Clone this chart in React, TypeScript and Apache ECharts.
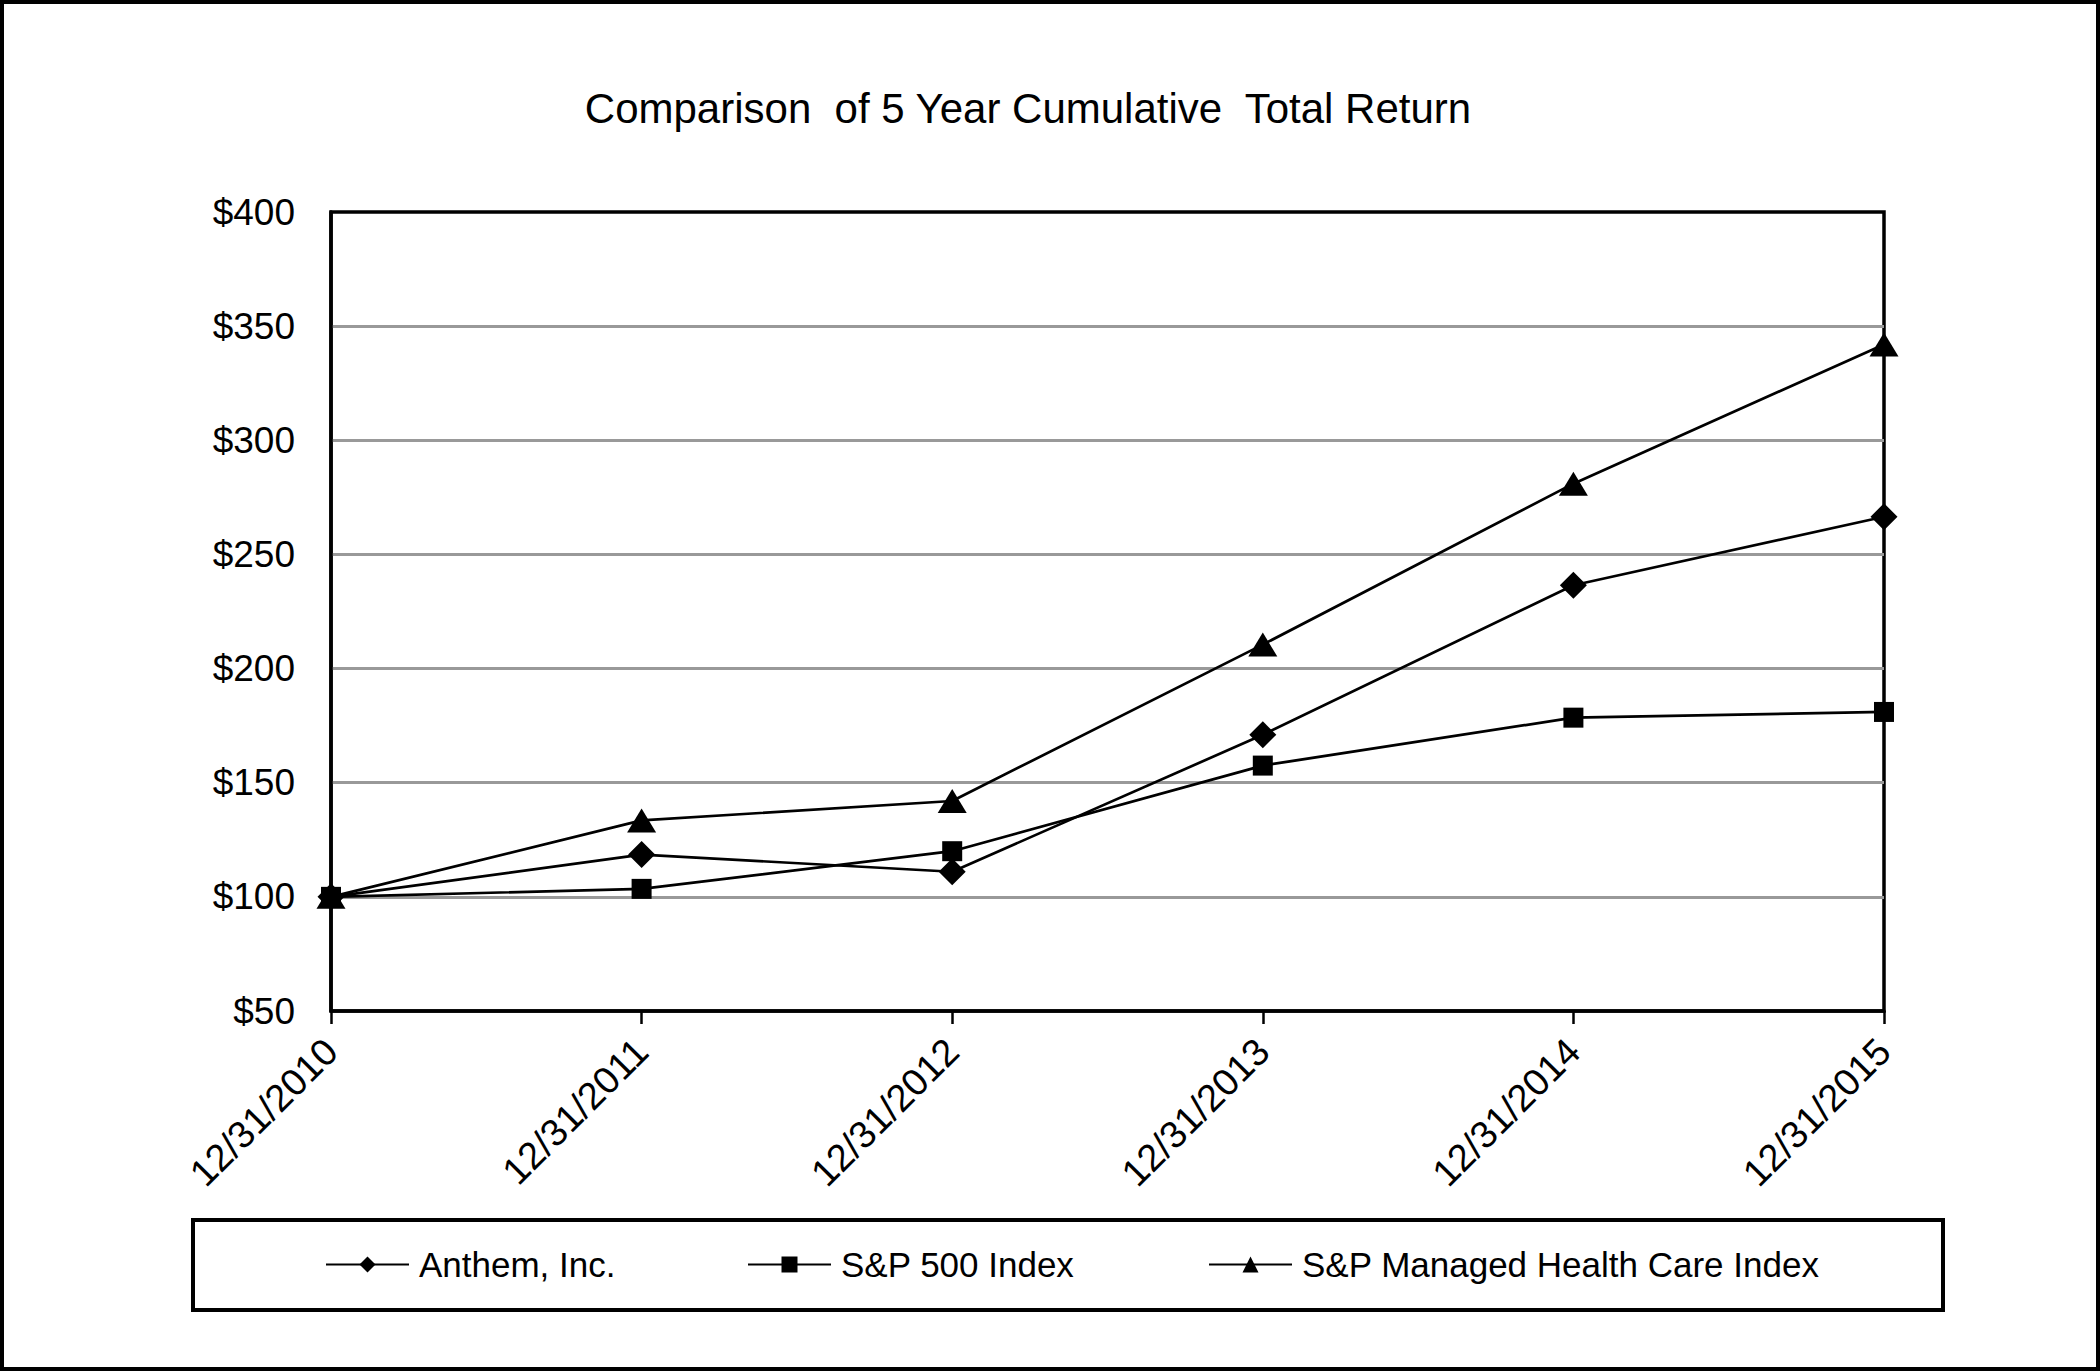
import React, { useEffect, useRef } from "react";
import * as echarts from "echarts";

const categories = ["12/31/2010", "12/31/2011", "12/31/2012", "12/31/2013", "12/31/2014", "12/31/2015"];
const anthem = [100, 118.5, 111, 171, 236.5, 266.5];
const sp500 = [100, 103.5, 120, 157.5, 178.5, 181];
const managedCare = [100, 133.5, 142, 210.5, 281, 342];
const seriesNames = ["Anthem, Inc.", "S&P 500 Index", "S&P Managed Health Care Index"];
const titleText = "Comparison  of 5 Year Cumulative  Total Return";

const FONT = "'Liberation Sans', Arial, sans-serif";

export default function App() {
  const ref = useRef<HTMLDivElement>(null);
  useEffect(() => {
    document.body.style.margin = "0";
    document.body.style.overflow = "hidden";
    const chart = echarts.init(ref.current!, null, { renderer: "svg" });
    const lineSeries = (name: string, data: number[], symbol: string, size: any) => ({
      name,
      type: "line",
      data,
      symbol,
      symbolSize: size,
      showAllSymbol: true,
      lineStyle: { color: "#000", width: 2.7 },
      itemStyle: { color: "#000" },
      emphasis: { disabled: true },
    });
    const legendBase = {
      top: 1242,
      itemWidth: 83,
      itemHeight: 20,
      textStyle: { fontFamily: FONT, fontSize: 35, color: "#000", padding: [0, 0, 0, 5] },
      selectedMode: false,
    };
    chart.setOption({
      animation: false,
      backgroundColor: "#fff",
      title: {
        text: titleText,
        left: 1023,
        top: 82,
        textAlign: "center",
        textStyle: { fontFamily: FONT, fontSize: 42, fontWeight: "normal", color: "#000" },
      },
      grid: {
        left: 331,
        right: 216,
        top: 212,
        bottom: 360,
        show: true,
        borderColor: "#000",
        borderWidth: 3.5,
        backgroundColor: "#fff",
      },
      legend: [
        { ...legendBase, left: 320, data: [seriesNames[0]] },
        { ...legendBase, left: 742, data: [seriesNames[1]] },
        { ...legendBase, left: 1203, data: [seriesNames[2]] },
      ],
      xAxis: {
        type: "category",
        data: categories,
        boundaryGap: false,
        axisLine: { lineStyle: { color: "#000", width: 3.5 } },
        axisTick: { show: true, length: 13, lineStyle: { color: "#000", width: 2.5 } },
        axisLabel: {
          rotate: 45,
          margin: 34,
          fontFamily: FONT,
          fontSize: 38,
          color: "#000",
        },
        splitLine: { show: false },
      },
      yAxis: {
        type: "value",
        min: 50,
        max: 400,
        interval: 50,
        axisLine: { show: true, lineStyle: { color: "#000", width: 3.5 } },
        axisTick: { show: false },
        axisLabel: {
          margin: 36,
          fontFamily: FONT,
          fontSize: 37,
          color: "#000",
          formatter: (v: number) => "$" + v,
        },
        splitLine: {
          show: true,
          showMinLine: false,
          showMaxLine: false,
          lineStyle: { color: "#999", width: 3 },
        },
      },
      graphic: [
        {
          type: "rect",
          shape: { x: 193, y: 1220, width: 1750, height: 90 },
          style: { fill: "none", stroke: "#000", lineWidth: 4 },
          z: 100,
        },
        {
          type: "rect",
          shape: { x: 2, y: 2, width: 2096, height: 1367 },
          style: { fill: "none", stroke: "#000", lineWidth: 4 },
          z: 100,
        },
      ],
      series: [
        lineSeries(seriesNames[0], anthem, "diamond", 27),
        lineSeries(seriesNames[1], sp500, "rect", 20),
        lineSeries(seriesNames[2], managedCare, "triangle", [29, 24]),
      ],
    });
    return () => chart.dispose();
  }, []);
  return <div ref={ref} style={{ width: 2100, height: 1371 }} />;
}
